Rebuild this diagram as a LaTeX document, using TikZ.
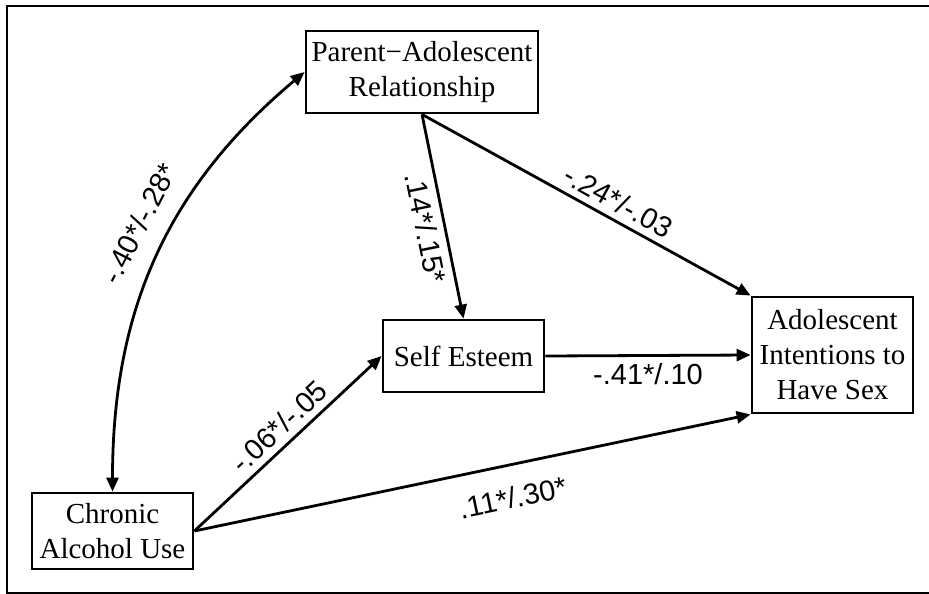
\documentclass[tikz,border=0pt]{standalone}
\usepackage{fontspec}
\setmainfont{Liberation Serif}
\setsansfont{Liberation Sans}
\usetikzlibrary{arrows.meta}

\begin{document}
\begin{tikzpicture}[x=0.5pt, y=0.5pt, >={Triangle[length=7pt,width=6pt]},
    box/.style={draw, line width=1.4pt, align=center, inner sep=0pt, font=\fontsize{14.5}{17.5}\selectfont},
    link/.style={->, line width=1.4pt},
    coef/.style={font=\sffamily\fontsize{14.5}{17}\selectfont}]
    \useasboundingbox (0,0) rectangle (929,-593);
    \draw[line width=1.2pt] (7,-6) rectangle (960,-593);

    \node[box, minimum width=116pt, minimum height=41pt] (par) at (422,-72) {Parent−Adolescent\\Relationship};
    \node[box, minimum width=80.5pt, minimum height=36pt] (self) at (463.5,-356) {Self Esteem};
    \node[box, minimum width=80.5pt, minimum height=58pt] (adol) at (832.5,-355) {Adolescent\\Intentions to\\Have Sex};
    \node[box, minimum width=80.5pt, minimum height=38pt] (alc) at (112.5,-531) {Chronic\\Alcohol Use};

    \draw[link, <->] (alc.north) to[out=90, in=220] node[coef, sloped, above=6pt, pos=0.55] {-.40*/-.28*} (par.west);
    \draw[link] (par.south) -- node[coef, sloped, below, pos=0.54] {.14*/.15*} (self.north);
    \draw[link] (par.south) -- node[coef, sloped, above, pos=0.57] {-.24*/-.03} (adol.north west);
    \draw[link] (self.east) -- node[coef, below] {-.41*/.10} (adol.west);
    \draw[link] (alc.east) -- node[coef, sloped, above, pos=0.52] {-.06*/-.05} (self.west);
    \draw[link] (alc.east) -- node[coef, sloped, below=7pt, pos=0.56] {.11*/.30*} (adol.south west);
\end{tikzpicture}
\end{document}
